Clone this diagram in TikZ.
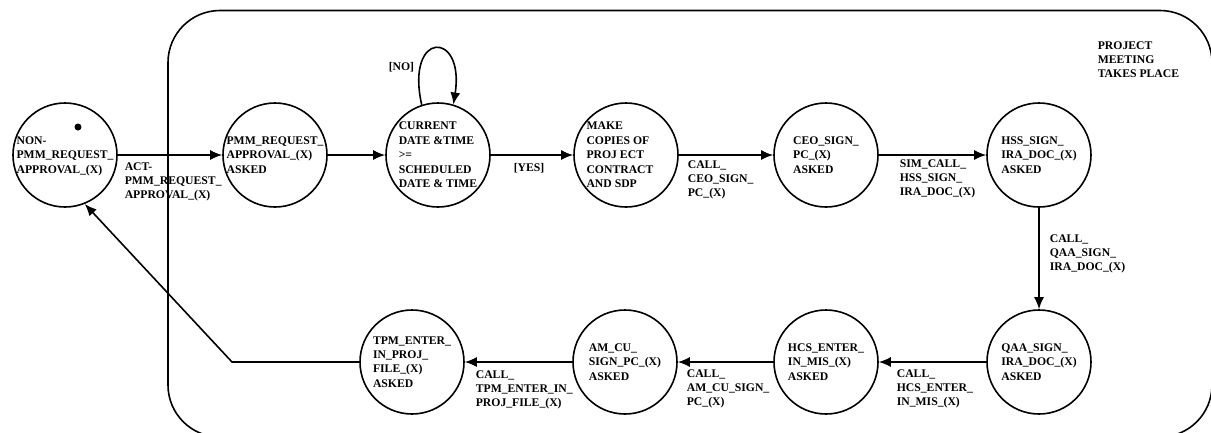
\documentclass[tikz,border=0pt]{standalone}
\usepackage{fontspec}
\setmainfont{Liberation Serif}
\usetikzlibrary{arrows.meta}
\newcommand\stxt[2][0]{\smash{\makebox[0pt]{\kern#1pt\raisebox{-3.8pt}{\begin{tabular}{@{}l@{}}#2\end{tabular}}}}}
\newcommand\ltxt[1]{\begin{tabular}[t]{@{}l@{}}#1\end{tabular}}
\begin{document}
\begin{tikzpicture}[x=1pt,y=-1pt,line width=1.6pt,
  every node/.style={font=\fontsize{11.7}{14.4}\selectfont\bfseries},
  st/.style={circle,draw,minimum size=104pt,inner sep=0pt,line width=1.6pt},
  lbl/.style={anchor=base west,inner sep=0pt},
  arr/.style={-{Latex[length=12pt,width=10pt]}}]
\useasboundingbox (0,0) rectangle (1211,432);
\begin{scope}
\clip (0,0) rectangle (1211,432);
\draw[rounded corners=52pt] (168,10.5) rectangle (1212,437);
\end{scope}
% states
\node[st] (n1) at (65,155) {\stxt{NON-\\PMM\_REQUEST\_\\APPROVAL\_(X)}};
\node[circle,fill,minimum size=7pt,inner sep=0pt] (dot) at (78,127) {};
\node[st] (n2) at (275,155) {\stxt{PMM\_REQUEST\_\\APPROVAL\_(X)\\ASKED}};
\node[st] (n3) at (438,155) {\stxt{CURRENT\\DATE \&TIME\\>=\\SCHEDULED\\DATE \& TIME}};
\node[st] (n4) at (626,155) {\stxt[-12]{MAKE\\COPIES OF\\PROJ ECT\\CONTRACT\\AND SDP}};
\node[st] (n5) at (826,155) {\stxt{CEO\_SIGN\_\\PC\_(X)\\ASKED}};
\node[st] (n6) at (1039,155) {\stxt{HSS\_SIGN\_\\IRA\_DOC\_(X)\\ASKED}};
\node[st] (n7) at (1039,362) {\stxt{QAA\_SIGN\_\\IRA\_DOC\_(X)\\ASKED}};
\node[st] (n8) at (826,362) {\stxt{HCS\_ENTER\_\\IN\_MIS\_(X)\\ASKED}};
\node[st] (n9) at (625,362) {\stxt{AM\_CU\_\\SIGN\_PC\_(X)\\ASKED}};
\node[st] (n10) at (412,362) {\stxt{TPM\_ENTER\_\\IN\_PROJ\_\\FILE\_(X)\\ASKED}};
% transitions
\draw[arr] (n1) -- (n2);
\draw[arr] (n2) -- (n3);
\draw[arr] (n3) -- (n4);
\draw[arr] (n4) -- (n5);
\draw[arr] (n5) -- (n6);
\draw[arr] (n6) -- (n7);
\draw[arr] (n7) -- (n8);
\draw[arr] (n8) -- (n9);
\draw[arr] (n9) -- (n10);
\coordinate (bend) at (232,362);
\draw[arr] (n10) -- (bend) -- (n1.292);
\draw[arr] (n3.108) .. controls (405,30) and (465,30) .. (n3.73);
% labels
\node[lbl] (l1) at (124,170) {\ltxt{ACT-\\PMM\_REQUEST\_\\APPROVAL\_(X)}};
\node[lbl] (lno) at (388,70) {[NO]};
\node[lbl] (lyes) at (513,171) {[YES]};
\node[lbl] (l4) at (687,168) {\ltxt{CALL\_\\CEO\_SIGN\_\\PC\_(X)}};
\node[lbl] (l5) at (899,167) {\ltxt{SIM\_CALL\_\\HSS\_SIGN\_\\IRA\_DOC\_(X)}};
\node[lbl] (l6) at (1049,242) {\ltxt{CALL\_\\QAA\_SIGN\_\\IRA\_DOC\_(X)}};
\node[lbl] (l7) at (896,377) {\ltxt{CALL\_\\HCS\_ENTER\_\\IN\_MIS\_(X)}};
\node[lbl] (l8) at (686,377) {\ltxt{CALL\_\\AM\_CU\_SIGN\_\\PC\_(X)}};
\node[lbl] (l9) at (475,378) {\ltxt{CALL\_\\TPM\_ENTER\_IN\_\\PROJ\_FILE\_(X)}};
\node[lbl] (title) at (1097,49) {\ltxt{PROJECT\\MEETING\\TAKES PLACE}};
\end{tikzpicture}
\end{document}
